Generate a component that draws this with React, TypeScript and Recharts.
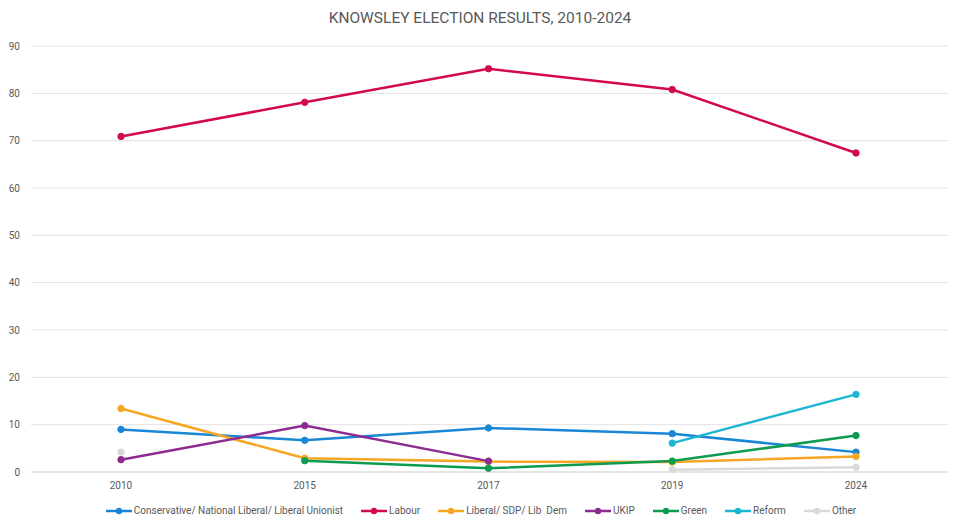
import { CSSProperties } from "react";
import { LineChart, Line, XAxis, YAxis, CartesianGrid } from "recharts";

const years = ["2010", "2015", "2017", "2019", "2024"];

const conservative = [9.0, 6.7, 9.3, 8.1, 4.2];
const labour = [70.9, 78.1, 85.2, 80.8, 67.4];
const libDem = [13.4, 2.9, 2.2, 2.1, 3.3];
const ukip = [2.6, 9.8, 2.3, null, null];
const green = [null, 2.4, 0.8, 2.3, 7.7];
const reform = [null, null, null, 6.1, 16.4];
const other = [4.2, null, null, 0.5, 1.0];

const yTicks = [0, 10, 20, 30, 40, 50, 60, 70, 80, 90];

const series = [
  { key: "con", name: "Conservative/ National Liberal/ Liberal Unionist", values: conservative, color: "#1a87d6" },
  { key: "lab", name: "Labour", values: labour, color: "#d4094a" },
  { key: "ld", name: "Liberal/ SDP/ Lib  Dem", values: libDem, color: "#f5a623" },
  { key: "ukip", name: "UKIP", values: ukip, color: "#8e2b90" },
  { key: "green", name: "Green", values: green, color: "#0c9b4f" },
  { key: "reform", name: "Reform", values: reform, color: "#1db6d2" },
  { key: "other", name: "Other", values: other, color: "#d9d9d9" },
];

const data = years.map((year, i) => {
  const row: Record<string, string | number | null> = { year };
  series.forEach((s) => {
    row[s.key] = s.values[i];
  });
  return row;
});

const FONT = "Roboto, 'Noto Sans', sans-serif";
const TEXT = "#595959";

export default function App() {
  const pageStyle: CSSProperties = {
    position: "absolute",
    left: 0,
    top: 0,
    width: 960,
    height: 529,
    background: "#fff",
    fontFamily: FONT,
  };

  const titleStyle: CSSProperties = {
    position: "absolute",
    top: 9,
    left: 0,
    width: 960,
    textAlign: "center",
    fontSize: 15.5,
    color: TEXT,
  };

  const legendStyle: CSSProperties = {
    position: "absolute",
    top: 505,
    left: 0,
    width: 962,
    display: "flex",
    justifyContent: "center",
    gap: 18,
    fontSize: 10,
    color: TEXT,
  };

  return (
    <div style={pageStyle}>
      <div style={titleStyle}>KNOWSLEY ELECTION RESULTS, 2010-2024</div>
      <LineChart
        width={960}
        height={529}
        data={data}
        margin={{ top: 46, right: 12, bottom: 27, left: 0 }}
      >
        <CartesianGrid vertical={false} stroke="#e3e3e3" />
        <XAxis
          dataKey="year"
          height={30}
          padding={{ left: 90, right: 92 }}
          axisLine={{ stroke: "#d9d9d9" }}
          tickLine={false}
          tickMargin={4}
          tick={{ fontSize: 10, fill: TEXT, fontFamily: FONT }}
        />
        <YAxis
          width={31}
          domain={[0, 90]}
          ticks={yTicks}
          axisLine={false}
          tickLine={false}
          tickMargin={5}
          tick={{ fontSize: 10, fill: TEXT, fontFamily: FONT }}
        />
        {series.map((s) => (
          <Line
            key={s.key}
            dataKey={s.key}
            name={s.name}
            stroke={s.color}
            strokeWidth={2.5}
            dot={{ r: 3.2, fill: s.color, stroke: s.color, strokeWidth: 1 }}
            isAnimationActive={false}
          />
        ))}
      </LineChart>
      <div style={legendStyle}>
        {series.map((s) => (
          <div key={s.key} style={{ display: "flex", alignItems: "center", gap: 2 }}>
            <svg width={26} height={10}>
              <line x1={0} y1={5} x2={26} y2={5} stroke={s.color} strokeWidth={2.5} />
              <circle cx={13} cy={5} r={3.2} fill={s.color} />
            </svg>
            <span style={{ whiteSpace: "pre" }}>{s.name}</span>
          </div>
        ))}
      </div>
    </div>
  );
}
